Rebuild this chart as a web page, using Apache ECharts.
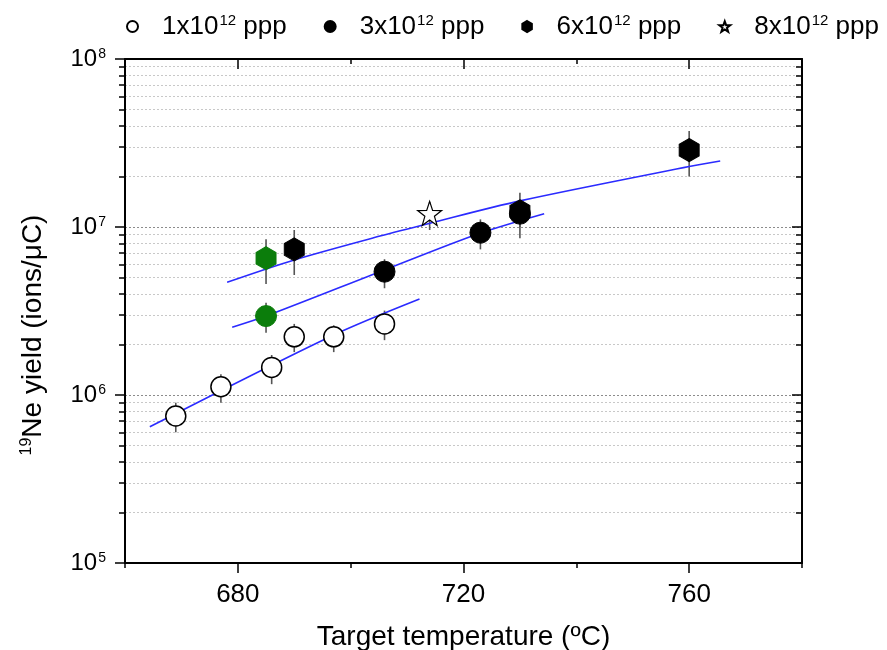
<!DOCTYPE html>
<html>
<head>
<meta charset="utf-8">
<script src="https://cdn.jsdelivr.net/npm/echarts@6/dist/echarts.min.js"></script>
<style>
  html, body { margin: 0; padding: 0; background: #fff; }
  #chart { width: 887px; height: 650px; }
</style>
</head>
<body>
<div id="chart"></div>
<script>
// 19Ne yield versus target temperature for four proton intensities.
// Each group: temperature (ºC), yield (ions/μC), error-bar low, error-bar high.
const temp1e12  = [669, 677, 686, 690, 697, 706];
const yield1e12 = [7.5e5, 1.12e6, 1.46e6, 2.22e6, 2.22e6, 2.65e6];
const low1e12   = [6.0e5, 9.0e5, 1.16e6, 1.80e6, 1.80e6, 2.12e6];
const high1e12  = [9.0e5, 1.33e6, 1.73e6, 2.65e6, 2.60e6, 3.18e6];

const temp3e12  = [706, 723, 730];
const yield3e12 = [5.42e6, 9.25e6, 1.20e7];
const low3e12   = [4.32e6, 7.36e6, 1.00e7];
const high3e12  = [6.43e6, 1.11e7, 1.42e7];

const temp3e12b  = [685];
const yield3e12b = [2.95e6];
const low3e12b   = [2.35e6];
const high3e12b  = [3.54e6];

const temp6e12  = [690, 730, 760];
const yield6e12 = [7.36e6, 1.24e7, 2.87e7];
const low6e12   = [5.18e6, 8.57e6, 2.00e7];
const high6e12  = [9.60e6, 1.60e7, 3.73e7];

const temp6e12b  = [685];
const yield6e12b = [6.52e6];
const low6e12b   = [4.58e6];
const high6e12b  = [8.45e6];

const temp8e12  = [714];
const yield8e12 = [1.205e7];
const low8e12   = [9.6e6];
const high8e12  = [1.41e7];

// Fitted trend curves
const fitTemp1e12  = [664.4, 696.9, 712.2];
const fitYield1e12 = [6.47e5, 2.27e6, 3.73e6];
const fitTemp3e12  = [679.0, 685.0, 706.0, 722.9, 734.3];
const fitYield3e12 = [2.53e6, 2.95e6, 5.55e6, 9.17e6, 1.20e7];
const fitTemp6e12  = [678.1, 690.0, 705.2, 713.9, 730.0, 760.0, 765.5];
const fitYield6e12 = [4.69e6, 6.37e6, 8.83e6, 1.05e7, 1.43e7, 2.29e7, 2.47e7];

// Axis ticks
const xMin = 660, xMax = 780, xStep = 20;
const xMajorTicks = [680, 720, 760];
const yMin = 1e5, yMax = 1e8;
const yDecades = [5, 6, 7];
const yMinorMultipliers = [2, 3, 4, 5, 6, 7, 8, 9];

const legendNames = ['1x10^12 ppp', '3x10^12 ppp', '6x10^12 ppp', '8x10^12 ppp'];

const FONT = "'Liberation Sans', Arial, sans-serif";
const HEX = 'path://M0,-10L8.66,-5L8.66,5L0,10L-8.66,5L-8.66,-5Z';
const STAR = 'path://M0,-10L2.35,-3.24L9.51,-3.09L3.8,1.24L5.88,8.09L0,4L-5.88,8.09L-3.8,1.24L-9.51,-3.09L-2.35,-3.24Z';

const zip = (a, b) => a.map((v, i) => [v, b[i]]);
const zip3 = (a, b, c) => a.map((v, i) => [v, b[i], c[i]]);

// minor tick positions (2..9 within each decade) on an exponent scale
const yMinorExp = [];
yDecades.forEach(d => yMinorMultipliers.forEach(m => yMinorExp.push(d + Math.log10(m))));

function errorSeries(t, lo, hi) {
  return {
    type: 'custom',
    xAxisIndex: 0, yAxisIndex: 0,
    silent: true, z: 3,
    data: zip3(t, lo, hi),
    renderItem(params, api) {
      const p1 = api.coord([api.value(0), api.value(1)]);
      const p2 = api.coord([api.value(0), api.value(2)]);
      return { type: 'line', shape: { x1: p1[0], y1: p1[1], x2: p2[0], y2: p2[1] },
               style: { stroke: '#555', lineWidth: 1.6 } };
    }
  };
}
function fitSeries(t, y) {
  return {
    type: 'line', xAxisIndex: 0, yAxisIndex: 0, silent: true, z: 4,
    data: zip(t, y), showSymbol: false, symbol: 'none', smooth: 0.3,
    lineStyle: { color: '#2b2bff', width: 1.6 }
  };
}

const legendRich = {
  a: { fontFamily: FONT, fontSize: 26, color: '#000' },
  s: { fontFamily: FONT, fontSize: 15, color: '#000', verticalAlign: 'top', padding: [0, 0, 12, 1] },
  g: { width: 19 }
};

function legendFmt(name) {
  const m = name.match(/^(\d)x10\^(\d+) (.*)$/);
  return '{g|}{a|' + m[1] + 'x10}{s|' + m[2] + '}{a| ' + m[3] + '}';
}

const chart = echarts.init(document.getElementById('chart'), null, { renderer: 'canvas' });

const baseX = {
  type: 'value', min: xMin, max: xMax, interval: xStep,
  splitLine: { show: false }
};
const tickLine = { color: '#000', width: 1.5 };

chart.setOption({
  animation: false,
  backgroundColor: '#fff',
  grid: { left: 125, right: 85, top: 59, bottom: 87, containLabel: false, outerBoundsMode: 'none' },
  legend: {
    top: 8, left: 121, itemGap: 37, itemWidth: 11, itemHeight: 11,
    data: legendNames, formatter: legendFmt,
    textStyle: { rich: legendRich }
  },
  xAxis: [
    Object.assign({}, baseX, {
      position: 'bottom',
      name: 'Target temperature (ºC)', nameLocation: 'middle', nameGap: 60,
      nameTextStyle: { fontFamily: FONT, fontSize: 28, color: '#000' },
      axisLine: { show: true, lineStyle: { color: '#000', width: 2 } },
      axisTick: { show: true, inside: false, length: 5, lineStyle: tickLine },
      axisLabel: { show: true, margin: 19, fontFamily: FONT, fontSize: 26, color: '#000',
        formatter: v => (v % 40 === 0 ? String(v) : '') }
    }),
    Object.assign({}, baseX, {
      position: 'bottom',
      axisLine: { show: false },
      axisTick: { show: true, inside: false, length: 10, customValues: xMajorTicks, lineStyle: tickLine },
      axisLabel: { show: false }
    }),
    Object.assign({}, baseX, {
      position: 'top',
      axisLine: { show: true, lineStyle: { color: '#000', width: 2 } },
      axisTick: { show: true, inside: true, length: 5, lineStyle: tickLine },
      axisLabel: { show: false }
    }),
    Object.assign({}, baseX, {
      position: 'top',
      axisLine: { show: false },
      axisTick: { show: true, inside: true, length: 10, customValues: xMajorTicks, lineStyle: tickLine },
      axisLabel: { show: false }
    })
  ],
  yAxis: [
    {
      type: 'log', logBase: 10, min: yMin, max: yMax, position: 'left',
      name: '{s|19}{a|Ne yield (ions/μC)}', nameLocation: 'middle', nameGap: 78, nameRotate: 90,
      nameTextStyle: { padding: [0, 48, 0, 0], rich: {
        a: { fontFamily: FONT, fontSize: 28, color: '#000' },
        s: { fontFamily: FONT, fontSize: 16, color: '#000', verticalAlign: 'top' } } },
      axisLine: { show: true, lineStyle: { color: '#000', width: 2 } },
      axisTick: { show: true, inside: false, length: 10, lineStyle: tickLine },
      minorTick: { show: false },
      splitLine: { show: true, lineStyle: { color: '#8c8c8c', type: [2, 2], width: 1 } },
      axisLabel: { margin: 19, formatter: v => '{a|10}{s|' + Math.round(Math.log10(v)) + '}',
        rich: {
          a: { fontFamily: FONT, fontSize: 24, color: '#000' },
          s: { fontFamily: FONT, fontSize: 14, color: '#000', verticalAlign: 'top', padding: [0, 0, 10, 1] } } }
    },
    {
      type: 'log', logBase: 10, min: yMin, max: yMax, position: 'right',
      axisLine: { show: true, lineStyle: { color: '#000', width: 2 } },
      axisTick: { show: true, inside: true, length: 10, lineStyle: tickLine },
      splitLine: { show: false },
      axisLabel: { show: false }
    },
    {
      // minor ticks and minor grid lines, left side (exponent scale)
      type: 'value', min: 5, max: 8, position: 'left',
      axisLine: { show: false },
      axisTick: { show: true, inside: false, length: 6, customValues: yMinorExp, lineStyle: tickLine },
      splitLine: { show: true, lineStyle: { color: '#c8c8c8', type: [2, 2], width: 1 } },
      axisLabel: { show: false }
    },
    {
      // minor ticks, right side
      type: 'value', min: 5, max: 8, position: 'right',
      axisLine: { show: false },
      axisTick: { show: true, inside: true, length: 6, customValues: yMinorExp, lineStyle: tickLine },
      splitLine: { show: false },
      axisLabel: { show: false }
    }
  ],
  series: [
    errorSeries(temp1e12, low1e12, high1e12),
    errorSeries(temp3e12, low3e12, high3e12),
    errorSeries(temp3e12b, low3e12b, high3e12b),
    errorSeries(temp6e12, low6e12, high6e12),
    errorSeries(temp6e12b, low6e12b, high6e12b),
    errorSeries(temp8e12, low8e12, high8e12),
    fitSeries(fitTemp1e12, fitYield1e12),
    fitSeries(fitTemp3e12, fitYield3e12),
    fitSeries(fitTemp6e12, fitYield6e12),
    {
      name: legendNames[0], type: 'scatter', z: 5, symbol: 'circle', symbolSize: 20,
      data: zip(temp1e12, yield1e12),
      itemStyle: { color: '#fff', borderColor: '#000', borderWidth: 1.5, opacity: 1 }
    },
    {
      name: legendNames[1], type: 'scatter', z: 5, symbol: 'circle', symbolSize: 21,
      data: zip(temp3e12, yield3e12),
      itemStyle: { color: '#000', borderColor: '#000', borderWidth: 1, opacity: 1 }
    },
    {
      name: '3x10^12 ppp (b)', type: 'scatter', z: 5, symbol: 'circle', symbolSize: 21,
      data: zip(temp3e12b, yield3e12b),
      itemStyle: { color: '#0b7d0b', borderColor: '#0b7d0b', borderWidth: 1, opacity: 1 }
    },
    {
      name: legendNames[2], type: 'scatter', z: 6, symbol: HEX, symbolSize: [20, 23],
      data: zip(temp6e12, yield6e12),
      itemStyle: { color: '#000', borderColor: '#000', borderWidth: 1, opacity: 1 }
    },
    {
      name: '6x10^12 ppp (b)', type: 'scatter', z: 6, symbol: HEX, symbolSize: [20, 23],
      data: zip(temp6e12b, yield6e12b),
      itemStyle: { color: '#0b7d0b', borderColor: '#0b7d0b', borderWidth: 1, opacity: 1 }
    },
    {
      name: legendNames[3], type: 'scatter', z: 6, symbol: STAR, symbolSize: 24,
      data: zip(temp8e12, yield8e12),
      itemStyle: { color: '#fff', borderColor: '#000', borderWidth: 1.2, opacity: 1 }
    }
  ]
});
</script>
</body>
</html>
